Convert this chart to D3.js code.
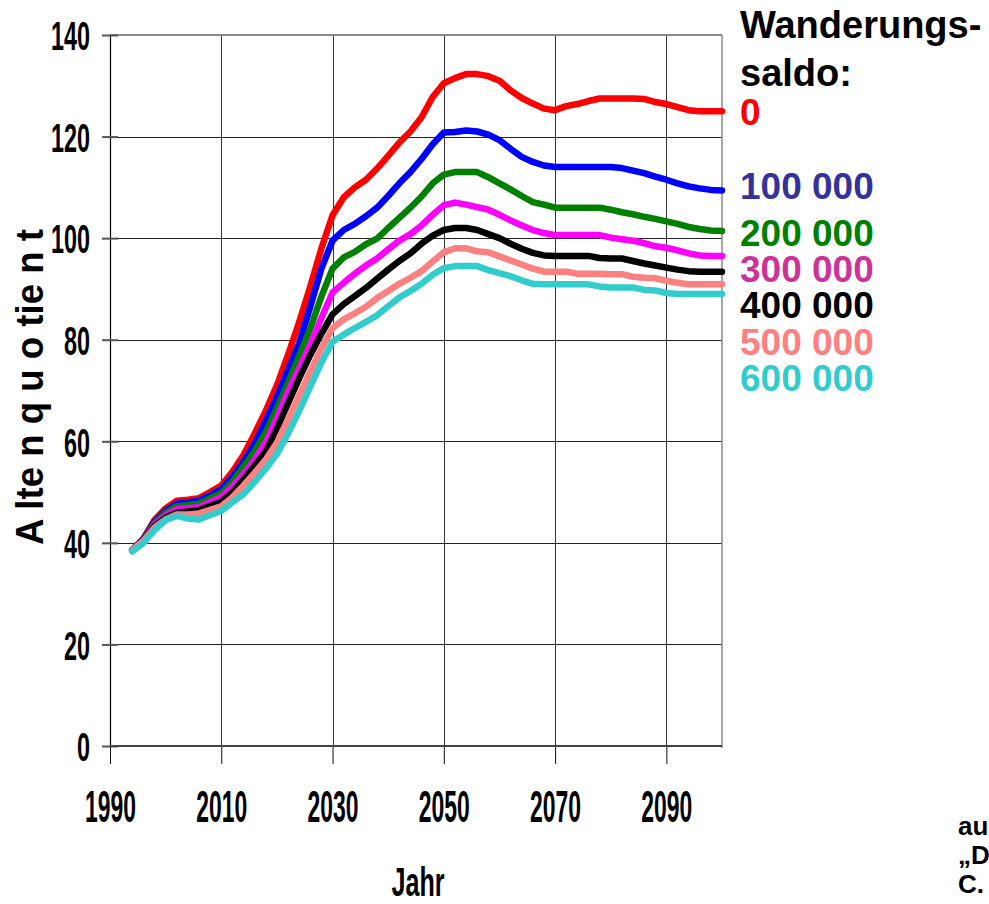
<!DOCTYPE html>
<html>
<head>
<meta charset="utf-8">
<script src="https://cdn.jsdelivr.net/npm/d3@7/dist/d3.min.js"></script>
<style>
  body { margin: 0; background: #fff; overflow: hidden; }
  text { font-family: "Liberation Sans", Arial, sans-serif; font-weight: bold; }
</style>
</head>
<body>
<svg id="chart"></svg>
<script>
// years of the projection (every 2nd year)
const years = [1994, 1996, 1998, 2000, 2002, 2004, 2006, 2008, 2010, 2012,
  2014, 2016, 2018, 2020, 2022, 2024, 2026, 2028, 2030, 2032,
  2034, 2036, 2038, 2040, 2042, 2044, 2046, 2048, 2050, 2052,
  2054, 2056, 2058, 2060, 2062, 2064, 2066, 2068, 2070, 2072,
  2074, 2076, 2078, 2080, 2082, 2084, 2086, 2088, 2090, 2092,
  2094, 2096, 2098, 2100]

// Altenquotient per Wanderungssaldo
const saldo0 = [38.6, 40.8, 44.5, 46.8, 48.3, 48.5, 48.8, 50, 51.3, 54,
  57.3, 61.5, 66, 71, 77, 83.5, 90.5, 98, 104.5, 108,
  110, 111.5, 113.7, 116.2, 118.8, 121, 123.8, 127.8, 130.5, 131.5,
  132.3, 132.3, 131.9, 131, 129.1, 127.6, 126.5, 125.5, 125.2, 126,
  126.4, 127, 127.5, 127.5, 127.5, 127.5, 127.4, 126.8, 126.4, 125.8,
  125.2, 125, 125, 125]
const saldo100k = [38.6, 40.8, 44.2, 46.3, 47.7, 48, 48.3, 49.4, 50.6, 53,
  56, 59.5, 64, 68.7, 74, 79.3, 86.5, 94, 99.5, 101.6,
  102.8, 104.3, 106, 108.3, 110.8, 113, 115.6, 118.5, 120.8, 120.9,
  121.2, 121, 120.4, 119.3, 117.6, 116, 115, 114.3, 114, 114,
  114, 114, 114, 114, 113.8, 113.3, 112.8, 112.1, 111.5, 110.8,
  110.2, 109.8, 109.5, 109.4]
const saldo200k = [38.6, 40.7, 43.9, 45.9, 47.2, 47.4, 47.7, 48.8, 49.8, 52,
  55, 58, 61.8, 66.5, 71.5, 76.8, 82.2, 88.5, 94, 96.2,
  97.3, 98.8, 99.9, 102, 104, 106, 108.2, 110.8, 112.5, 113,
  113, 113, 112, 110.8, 109.6, 108.3, 107.1, 106.6, 106, 106,
  106, 106, 106, 105.6, 105.1, 104.7, 104.2, 103.8, 103.3, 102.8,
  102.2, 101.8, 101.5, 101.4]
const saldo300k = [38.6, 40.6, 43.6, 45.4, 46.6, 46.8, 47, 48, 49, 51,
  53.6, 56.3, 59.8, 64.5, 69.7, 74.3, 79, 84.3, 89.3, 91.2,
  93, 94.6, 96, 97.8, 99.5, 100.8, 102.5, 104.6, 106.5, 107,
  106.6, 106.1, 105.6, 104.6, 103.5, 102.5, 101.6, 101, 100.6, 100.6,
  100.6, 100.6, 100.6, 100.1, 99.8, 99.5, 99, 98.4, 98.1, 97.6,
  97, 96.6, 96.5, 96.5]
const saldo400k = [38.6, 40.5, 43.3, 45, 46, 46.2, 46.5, 47.3, 48.1, 50,
  52.5, 55.2, 58, 62.5, 67.5, 72.4, 77, 81.2, 85, 87,
  88.6, 90.2, 92, 93.8, 95.5, 97, 98.9, 100.5, 101.6, 102,
  102, 101.6, 100.8, 100, 98.9, 97.9, 97.1, 96.6, 96.5, 96.5,
  96.5, 96.5, 96.1, 96, 96, 95.5, 95, 94.6, 94.2, 93.8,
  93.5, 93.4, 93.4, 93.4]
const saldo500k = [38.6, 40.4, 43, 44.6, 45.6, 45.6, 45.8, 46.5, 47.2, 49,
  51.3, 53.8, 56.4, 59.7, 64.3, 69, 73.7, 78.3, 82.3, 84,
  85.2, 86.5, 88.2, 89.6, 91, 92.2, 93.5, 95.4, 97.2, 98,
  98, 97.4, 97.2, 96.4, 95.6, 94.8, 94, 93.4, 93.4, 93.4,
  93, 93, 93, 92.9, 92.9, 92.4, 92.2, 92.1, 91.6, 91.2,
  90.9, 90.9, 90.9, 90.9]
const saldo600k = [38.3, 40, 42.5, 44.5, 45.3, 44.8, 44.6, 45.5, 46.3, 48,
  49.6, 52, 54.6, 57.5, 61.5, 66, 70.8, 75.5, 79.6, 81,
  82.3, 83.5, 84.8, 86.6, 88.3, 89.6, 91, 92.8, 94.1, 94.5,
  94.5, 94.5, 93.7, 93.1, 92.5, 91.7, 91, 90.9, 90.9, 90.9,
  90.9, 90.9, 90.5, 90.3, 90.3, 90.3, 89.8, 89.7, 89.2, 89,
  89, 89, 89, 89]

const seriesNames = ["0", "100 000", "200 000", "300 000", "400 000", "500 000", "600 000"]
const lineColors = ["#ff0000", "#0000ff", "#008000", "#ff00ff", "#000000", "#ff8080", "#33cccc"]
const labelColors = ["#ff0000", "#333399", "#008000", "#cc3399", "#000000", "#ff8080", "#33cccc"]
const allSeries = [saldo0, saldo100k, saldo200k, saldo300k, saldo400k, saldo500k, saldo600k]

const xTicks = [1990, 2010, 2030, 2050, 2070, 2090]
const yTicks = [0, 20, 40, 60, 80, 100, 120, 140]

const width = 989
const height = 904

const svg = d3.select("#chart")
  .attr("width", width)
  .attr("height", height)

const x = d3.scaleLinear().domain([1990, 2100]).range([110, 722])
const y = d3.scaleLinear().domain([0, 140]).range([746, 35])

// grid
const grid = svg.append("g")
grid.selectAll("line.h")
  .data(yTicks.filter(d => d > 0 && d < 140))
  .enter().append("line")
  .attr("x1", x(1990)).attr("x2", x(2100))
  .attr("y1", d => Math.round(y(d)) + 0.5).attr("y2", d => Math.round(y(d)) + 0.5)
  .style("stroke", "#222")
  .style("stroke-width", 1)
grid.selectAll("line.v")
  .data(xTicks.filter(d => d > 1990))
  .enter().append("line")
  .attr("x1", d => Math.round(x(d)) + 0.5).attr("x2", d => Math.round(x(d)) + 0.5)
  .attr("y1", y(140)).attr("y2", y(0))
  .style("stroke", "#333")
  .style("stroke-width", 1)

// plot frame, top and right in grey
grid.append("line")
  .attr("x1", x(1990)).attr("x2", x(2100))
  .attr("y1", y(140)).attr("y2", y(140))
  .style("stroke", "#8a8a8a").style("stroke-width", 2)
grid.append("line")
  .attr("x1", x(2100)).attr("x2", x(2100))
  .attr("y1", y(140)).attr("y2", y(0) + 2)
  .style("stroke", "#8a8a8a").style("stroke-width", 1.5)

// y axis
const yAxis = d3.axisLeft(y).tickValues(yTicks).tickSize(8).tickPadding(20)
const gy = svg.append("g")
  .attr("transform", "translate(" + x(1990) + ",0)")
  .call(yAxis)
gy.select(".domain").style("stroke", "#000").style("stroke-width", 1.2)
gy.selectAll(".tick line").attr("x1", 8).style("stroke", "#555").style("stroke-width", 2)
gy.selectAll(".tick text")
  .attr("x", -20)
  .attr("dy", "0.36em")
  .style("font-size", "41px")
  .style("font-family", "'Liberation Sans', Arial, sans-serif")
  .style("font-weight", "bold")
  .style("fill", "#000")
  .attr("textLength", d => String(d).length * 13)
  .attr("lengthAdjust", "spacingAndGlyphs")

// x axis
const xAxis = d3.axisBottom(x).tickValues(xTicks).tickSize(18).tickFormat(d3.format("d"))
const gx = svg.append("g")
  .attr("transform", "translate(0," + y(0) + ")")
  .call(xAxis)
gx.select(".domain").remove()
gx.append("line")
  .attr("x1", x(1990)).attr("x2", x(2100))
  .style("stroke", "#444").style("stroke-width", 2.2)
gx.selectAll(".tick line").style("stroke", "#111").style("stroke-width", 1)
gx.selectAll(".tick text")
  .attr("y", 76)
  .attr("dy", 0)
  .style("font-size", "44px")
  .style("font-family", "'Liberation Sans', Arial, sans-serif")
  .style("font-weight", "bold")
  .style("fill", "#000")
  .attr("textLength", 51)
  .attr("lengthAdjust", "spacingAndGlyphs")

// axis titles
svg.append("text")
  .attr("x", (x(1990) + x(2100)) / 2 + 2)
  .attr("y", 896)
  .attr("text-anchor", "middle")
  .style("font-size", "40px")
  .attr("textLength", 53)
  .attr("lengthAdjust", "spacingAndGlyphs")
  .text("Jahr")

svg.append("text")
  .attr("transform", "translate(43,545) rotate(-90)")
  .style("font-size", "38px")
  .attr("textLength", 316)
  .attr("lengthAdjust", "spacingAndGlyphs")
  .text("A lte n q u o tie n t")

// lines
const line = d3.line()
  .x((d, i) => x(years[i]))
  .y(d => y(d))

svg.append("g").selectAll("path")
  .data(allSeries)
  .enter().append("path")
  .attr("d", line)
  .style("fill", "none")
  .style("stroke", (d, i) => lineColors[i])
  .style("stroke-width", 6.5)
  .style("stroke-linejoin", "round")
  .style("stroke-linecap", "round")

// legend
const legend = svg.append("g").attr("transform", "translate(740,0)")
legend.append("text").attr("y", 38).style("font-size", "38px").text("Wanderungs-")
legend.append("text").attr("y", 86).style("font-size", "38px").text("saldo:")
const legendY = [125, 199, 246, 282, 318, 355, 391]
legend.selectAll("text.item")
  .data(seriesNames)
  .enter().append("text")
  .attr("class", "item")
  .attr("y", (d, i) => legendY[i])
  .style("font-size", "37px")
  .style("fill", (d, i) => labelColors[i])
  .text(d => d)

// source note, cut off at the right edge
const source = ["au", "\u201eD", "C."]
svg.append("g").selectAll("text")
  .data(source)
  .enter().append("text")
  .attr("x", 958)
  .attr("y", (d, i) => 835 + i * 29)
  .style("font-size", "26px")
  .text(d => d)
</script>
</body>
</html>
